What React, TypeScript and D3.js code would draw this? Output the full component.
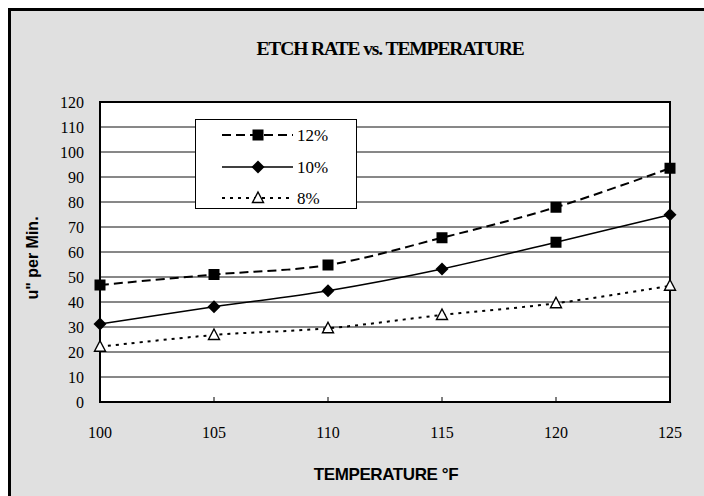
import * as d3 from "d3";

const temps = [100, 105, 110, 115, 120, 125];
const rate12 = [46.8, 51, 54.8, 65.7, 77.9, 93.5];
const rate10 = [31.2, 38.1, 44.5, 53.2, 63.9, 74.9];
const rate8 = [22.1, 26.8, 29.5, 34.8, 39.5, 46.5];
// Excel drew the 10% point at 120 with a square, kept as in the picture
const markers10 = ["diamond", "diamond", "diamond", "diamond", "square", "diamond"];
const yTicks = [0, 10, 20, 30, 40, 50, 60, 70, 80, 90, 100, 110, 120];
const xTicks = [100, 105, 110, 115, 120, 125];

type Marker = "square" | "diamond" | "triangle";

const series = [
  { name: "12%", values: rate12, markers: temps.map(() => "square"), dash: "9 5", width: 2 },
  { name: "10%", values: rate10, markers: markers10, dash: "", width: 1.5 },
  { name: "8%", values: rate8, markers: temps.map(() => "triangle"), dash: "3 5", width: 2 },
];

function MarkerShape({ kind, x, y }: { kind: string; x: number; y: number }) {
  if (kind === "square") {
    return <rect x={x - 5.5} y={y - 5.5} width={11} height={11} fill="#000" />;
  }
  if (kind === "diamond") {
    return <path d={`M${x},${y - 6.5}L${x + 6.5},${y}L${x},${y + 6.5}L${x - 6.5},${y}Z`} fill="#000" />;
  }
  return (
    <path
      d={`M${x},${y - 6}L${x + 5.5},${y + 4.5}L${x - 5.5},${y + 4.5}Z`}
      fill="#fff"
      stroke="#000"
      strokeWidth={1.4}
    />
  );
}

export default function App() {
  const left = 100;
  const right = 670;
  const top = 102;
  const bottom = 402;

  const x = d3.scaleLinear().domain([100, 125]).range([left, right]);
  const y = d3.scaleLinear().domain([0, 120]).range([bottom, top]);

  const lineGen = d3
    .line<number>()
    .x((_, i) => x(temps[i]))
    .y((v) => y(v))
    .curve(d3.curveCatmullRom.alpha(0.5));

  const serif = "'Liberation Serif', 'Times New Roman', serif";
  const sans = "'Liberation Sans', Arial, sans-serif";

  const legendRows = [135, 167, 198];

  return (
    <svg
      width={704}
      height={496}
      style={{ position: "absolute", left: 0, top: 0, background: "#fff" }}
    >
      <rect x={8} y={8} width={696} height={488} fill="#e0e0e0" />
      <path d="M9.5,496V9.5H704" fill="none" stroke="#000" strokeWidth={3} />

      <text
        x={390}
        y={55}
        textAnchor="middle"
        fontFamily={serif}
        fontWeight="bold"
        fontSize={19.5}
        letterSpacing={-1.1}
      >
        ETCH RATE vs. TEMPERATURE
      </text>

      <rect x={left} y={top} width={right - left} height={bottom - top} fill="#fff" />
      {yTicks.map((t) => (
        <g key={t}>
          <line x1={left} x2={right} y1={y(t)} y2={y(t)} stroke="#111" strokeWidth={1} />
          <text
            x={84}
            y={y(t) + 5.5}
            textAnchor="end"
            fontFamily={serif}
            fontSize={16}
          >
            {t}
          </text>
        </g>
      ))}
      {xTicks.map((t) => (
        <g key={t}>
          <line x1={x(t)} x2={x(t)} y1={bottom} y2={bottom - 5} stroke="#000" strokeWidth={1} />
          <text x={x(t)} y={438} textAnchor="middle" fontFamily={serif} fontSize={16}>
            {t}
          </text>
        </g>
      ))}
      <rect
        x={left}
        y={top}
        width={right - left}
        height={bottom - top}
        fill="none"
        stroke="#000"
        strokeWidth={2}
      />

      {series.map((s) => (
        <g key={s.name}>
          <path
            d={lineGen(s.values) ?? ""}
            fill="none"
            stroke="#000"
            strokeWidth={s.width}
            strokeDasharray={s.dash || undefined}
          />
          {s.values.map((v, i) => (
            <MarkerShape key={i} kind={s.markers[i] as Marker} x={x(temps[i])} y={y(v)} />
          ))}
        </g>
      ))}

      <rect x={195.5} y={119.5} width={161} height={89} fill="#fff" stroke="#000" strokeWidth={1} />
      {series.map((s, i) => (
        <g key={s.name}>
          <line
            x1={222}
            x2={293}
            y1={legendRows[i]}
            y2={legendRows[i]}
            stroke="#000"
            strokeWidth={s.width}
            strokeDasharray={s.dash || undefined}
          />
          <MarkerShape kind={s.markers[0]} x={258} y={legendRows[i]} />
          <text x={297} y={legendRows[i] + 6} fontFamily={serif} fontSize={17}>
            {s.name}
          </text>
        </g>
      ))}

      <text
        transform={`translate(38,${(top + bottom) / 2 + 6}) rotate(-90)`}
        textAnchor="middle"
        fontFamily={sans}
        fontWeight="bold"
        fontSize={16}
      >
        u" per Min.
      </text>
      <text
        x={386}
        y={480}
        textAnchor="middle"
        fontFamily={sans}
        fontWeight="bold"
        fontSize={17}
        letterSpacing={-0.4}
      >
        TEMPERATURE °F
      </text>
    </svg>
  );
}
